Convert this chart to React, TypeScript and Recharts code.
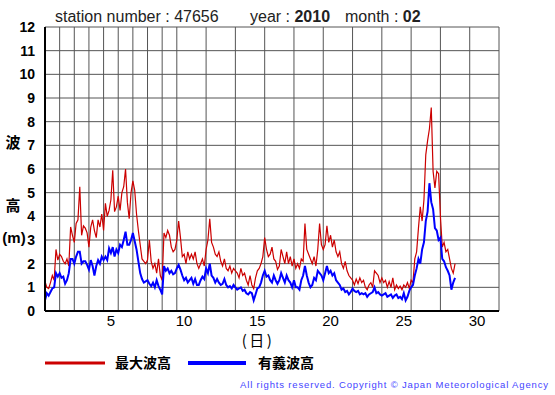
import { LineChart, Line, XAxis, YAxis, CartesianGrid } from "recharts";

// 3時間ごとの値（2月1日0時から）
const SAMPLES_PER_DAY = 8;

const MAX_WEEK1 = [
  1.25, 1.0, 0.95, 1.2, 1.5, 1.3, 2.6, 2.15,
  2.4, 2.3, 2.1, 2.0, 2.2, 1.9, 3.55, 3.2,
  2.9, 3.7, 3.85, 5.25, 3.2, 3.6, 3.5, 3.3,
  2.7, 3.55, 3.85, 3.4, 3.1, 3.85, 3.55, 4.1,
  3.4, 4.55, 4.0, 4.25, 4.7, 5.95, 4.2, 4.4,
  4.85, 4.25, 5.0, 5.25, 6.0, 4.6, 3.9, 5.0,
  5.5, 5.1, 4.1, 3.4, 2.8, 2.2, 2.1, 2.0,
];
const MAX_WEEK2 = [
  2.15, 3.0, 2.1, 1.8, 2.0, 1.6, 2.2, 1.5,
  1.3, 3.3, 3.1, 3.4, 3.2, 2.7, 2.5, 2.6,
  3.0, 3.8, 3.1, 2.3, 2.4, 2.0, 2.5, 2.2,
  2.4, 2.2, 2.5, 2.0, 1.8, 2.0, 2.2, 1.9,
  2.6, 3.0, 3.9, 2.9, 2.7, 2.4, 2.3, 2.5,
  2.1, 1.9, 2.2, 1.8, 1.7, 1.9, 1.6, 1.8,
  1.7, 1.6, 1.4, 1.8, 1.5, 1.6, 1.3, 1.1,
];
const MAX_WEEK3 = [
  1.5, 1.1, 0.95, 1.4, 1.7, 1.8, 2.0, 2.3,
  3.1, 2.6, 2.3, 2.4, 2.7, 2.2, 2.1, 1.75,
  1.9, 2.6, 2.3, 2.0, 2.5, 2.0, 2.3, 1.9,
  2.2, 1.8, 2.0, 1.8, 2.2, 2.1, 3.7, 2.6,
  2.4, 2.2, 2.0, 2.3, 1.9, 2.6, 3.7, 2.8,
  2.6, 2.8, 3.6, 2.9, 3.2, 2.7, 3.0, 2.5,
  2.3, 2.5, 2.0, 1.8, 2.1, 1.7, 1.5, 1.4,
];
const MAX_WEEK4 = [
  1.3, 1.1, 1.35, 1.15, 1.4, 1.2, 1.3, 1.0,
  0.9, 1.1, 1.2, 1.0, 1.7, 1.6, 1.5, 1.2,
  1.4, 1.2, 1.3, 1.0, 1.25, 1.0, 1.4, 0.9,
  1.1, 0.95, 1.05, 0.9, 1.1, 1.0, 1.2, 0.95,
  1.3, 1.2, 2.2, 2.5, 3.5, 4.4, 3.8, 4.7,
  6.6, 7.2, 7.7, 8.6, 5.9, 5.2, 5.9, 5.8,
  4.0, 2.7, 2.9, 2.5, 2.6, 2.2, 1.8, 1.6,
  2.0,
];

const SIG_WEEK1 = [
  0.45, 0.75, 0.65, 0.8, 0.95, 1.0, 1.6, 1.45,
  1.6, 1.4, 1.45, 1.15, 1.3, 1.6, 2.2, 2.2,
  2.0, 2.3, 2.5, 2.5, 2.0, 2.1, 2.1, 1.95,
  1.75, 2.15, 1.9, 1.5, 1.9, 2.15, 2.0, 2.3,
  2.15, 2.3, 2.15, 2.65, 2.45, 2.7, 2.3, 2.6,
  2.45, 2.8, 2.7, 3.0, 3.35, 2.8, 2.8, 3.0,
  3.3, 2.95, 2.6, 2.1, 1.6, 1.35, 1.2, 1.25,
];
const SIG_WEEK2 = [
  1.3, 1.15, 1.05, 1.2, 1.0, 1.3, 1.05, 0.9,
  0.7, 1.9, 1.7, 1.8, 1.6, 1.7, 1.55, 1.6,
  1.8, 1.95, 1.75, 1.5, 1.3, 1.4, 1.2, 1.3,
  1.4, 1.15, 1.35, 1.1, 1.1, 1.3, 1.45, 1.35,
  1.8, 1.6, 2.0, 1.5, 1.4, 1.2, 1.35, 1.2,
  1.1, 1.15, 1.35, 1.1, 1.0, 1.05, 0.95, 1.1,
  1.0, 0.9, 0.95, 1.0, 0.85, 0.9, 0.75, 0.7,
];
const SIG_WEEK3 = [
  0.8, 0.75, 0.45, 0.7, 0.95, 1.0, 1.2, 1.5,
  1.7, 1.45, 1.5, 1.3, 1.2, 1.5, 1.3, 1.15,
  1.3, 1.6, 1.4, 1.2, 1.5, 1.3, 1.2, 1.0,
  1.3, 1.0, 1.0, 0.9, 1.3, 1.5, 1.9, 1.5,
  1.2, 1.0, 1.1, 1.4, 1.3, 1.7, 1.6, 1.5,
  1.3, 1.6, 1.9, 1.6, 1.7, 1.5, 1.6, 1.3,
  1.2, 1.1, 0.9, 0.95, 0.8, 0.85, 0.7, 0.8,
];
const SIG_WEEK4 = [
  0.95, 0.85, 0.8, 0.85, 0.7, 0.75, 0.7, 0.75,
  0.6, 0.7, 0.75, 0.8, 1.0, 0.75, 0.8, 0.7,
  0.65, 0.7, 0.75, 0.6, 0.65, 0.7, 0.55, 0.65,
  0.7, 0.55, 0.6, 0.5, 0.75, 0.45, 0.6, 0.85,
  1.0, 1.1, 1.5, 1.8, 2.2, 2.0, 2.6, 2.9,
  3.8, 4.2, 5.4, 4.6, 4.3, 3.5, 3.4, 3.0,
  3.1, 2.2, 2.1, 1.85, 1.7, 1.5, 0.9, 1.2,
  1.4,
];

const MAX_WAVE = [...MAX_WEEK1, ...MAX_WEEK2, ...MAX_WEEK3, ...MAX_WEEK4];
const SIG_WAVE = [...SIG_WEEK1, ...SIG_WEEK2, ...SIG_WEEK3, ...SIG_WEEK4];

const DAY_GRID = Array.from({ length: 32 }, (_, i) => i);
const DAY_LABELS = [5, 10, 15, 20, 25, 30];
const HEIGHT_TICKS = [0, 1, 2, 3, 4, 5, 6, 7, 8, 9, 10, 11, 12];

const data = MAX_WAVE.map((v, i) => ({
  t: i / SAMPLES_PER_DAY,
  max: v,
  sig: SIG_WAVE[i],
}));

const SANS = "'Liberation Sans', Arial, sans-serif";
const CJK = "'Noto Sans CJK JP', sans-serif";

function HeightTick(props: any) {
  const { x, y, payload } = props;
  return (
    <text x={x - 2} y={y + 5} textAnchor="end" fontFamily={SANS} fontWeight="bold" fontSize={14} fill="#000">
      {payload.value}
    </text>
  );
}

// ラベルは日の升目の中央に置く
function DayTick(props: any) {
  const { x, y, payload } = props;
  return (
    <text x={x} y={y + 7} textAnchor="middle" fontFamily={SANS} fontSize={15} fill="#000">
      {payload.value + 0.5}
    </text>
  );
}

export default function App() {
  return (
    <div style={{ position: "absolute", left: 0, top: 0, width: 555, height: 395, background: "#fff" }}>
      <LineChart width={555} height={395} data={data} margin={{ top: 27, right: 56, bottom: 54, left: 0 }}>
        <XAxis xAxisId="grid" dataKey="t" type="number" domain={[0, 31]} ticks={DAY_GRID} hide />
        <XAxis
          xAxisId="day"
          dataKey="t"
          type="number"
          domain={[0, 31]}
          ticks={DAY_LABELS.map((d) => d - 0.5)}
          tick={<DayTick />}
          tickLine={false}
          axisLine={{ stroke: "#000", strokeWidth: 2 }}
          height={30}
          interval={0}
        />
        <XAxis
          xAxisId="top"
          orientation="top"
          dataKey="t"
          type="number"
          domain={[0, 31]}
          tick={false}
          tickLine={false}
          axisLine={{ stroke: "#000", strokeWidth: 2 }}
          height={0}
        />
        <YAxis
          domain={[0, 12]}
          ticks={HEIGHT_TICKS}
          tick={<HeightTick />}
          tickLine={false}
          axisLine={{ stroke: "#000", strokeWidth: 2 }}
          width={45}
          interval={0}
        />
        <YAxis
          yAxisId="right"
          orientation="right"
          domain={[0, 12]}
          tick={false}
          tickLine={false}
          axisLine={{ stroke: "#000", strokeWidth: 2 }}
          width={0}
        />
        <CartesianGrid xAxisId="grid" stroke="#555" strokeWidth={1} />
        <Line
          xAxisId="day"
          type="linear"
          dataKey="max"
          stroke="#cc0000"
          strokeWidth={1.2}
          dot={false}
          activeDot={false}
          isAnimationActive={false}
        />
        <Line
          xAxisId="day"
          type="linear"
          dataKey="sig"
          stroke="#0000ff"
          strokeWidth={2}
          dot={false}
          activeDot={false}
          isAnimationActive={false}
        />
      </LineChart>

      <svg width={555} height={395} style={{ position: "absolute", left: 0, top: 0, pointerEvents: "none" }}>
        <text x={55} y={22} fontFamily={SANS} fontSize={16} fill="#222">station number : 47656</text>
        <text x={250} y={22} fontFamily={SANS} fontSize={16} fill="#222">
          year : <tspan fontWeight="bold">2010</tspan>
        </text>
        <text x={345} y={22} fontFamily={SANS} fontSize={16} fill="#222">
          month : <tspan fontWeight="bold">02</tspan>
        </text>

        <text x={13} y={148} textAnchor="middle" fontFamily={CJK} fontWeight="bold" fontSize={15} fill="#000">波</text>
        <text x={13} y={211} textAnchor="middle" fontFamily={CJK} fontWeight="bold" fontSize={15} fill="#000">高</text>
        <text x={14} y={243} textAnchor="middle" fontFamily={SANS} fontWeight="bold" fontSize={15} fill="#000">(m)</text>

        <text x={258} y={346} textAnchor="middle" fontFamily={CJK} fontSize={15} letterSpacing={2.5} fill="#000">(日)</text>

        <line x1={45} y1={363} x2={105} y2={363} stroke="#cc0000" strokeWidth={3} />
        <text x={115} y={368} fontFamily={CJK} fontWeight="bold" fontSize={14} fill="#000">最大波高</text>
        <line x1={188} y1={363} x2={246} y2={363} stroke="#0000ff" strokeWidth={4} />
        <text x={258} y={368} fontFamily={CJK} fontWeight="bold" fontSize={14} fill="#000">有義波高</text>

        <text
          x={240}
          y={388}
          fontFamily={SANS}
          fontSize={9.5}
          fill="#4444ff"
          textLength={308}
          lengthAdjust="spacing"
        >
          All rights reserved. Copyright © Japan Meteorological Agency
        </text>
      </svg>
    </div>
  );
}
